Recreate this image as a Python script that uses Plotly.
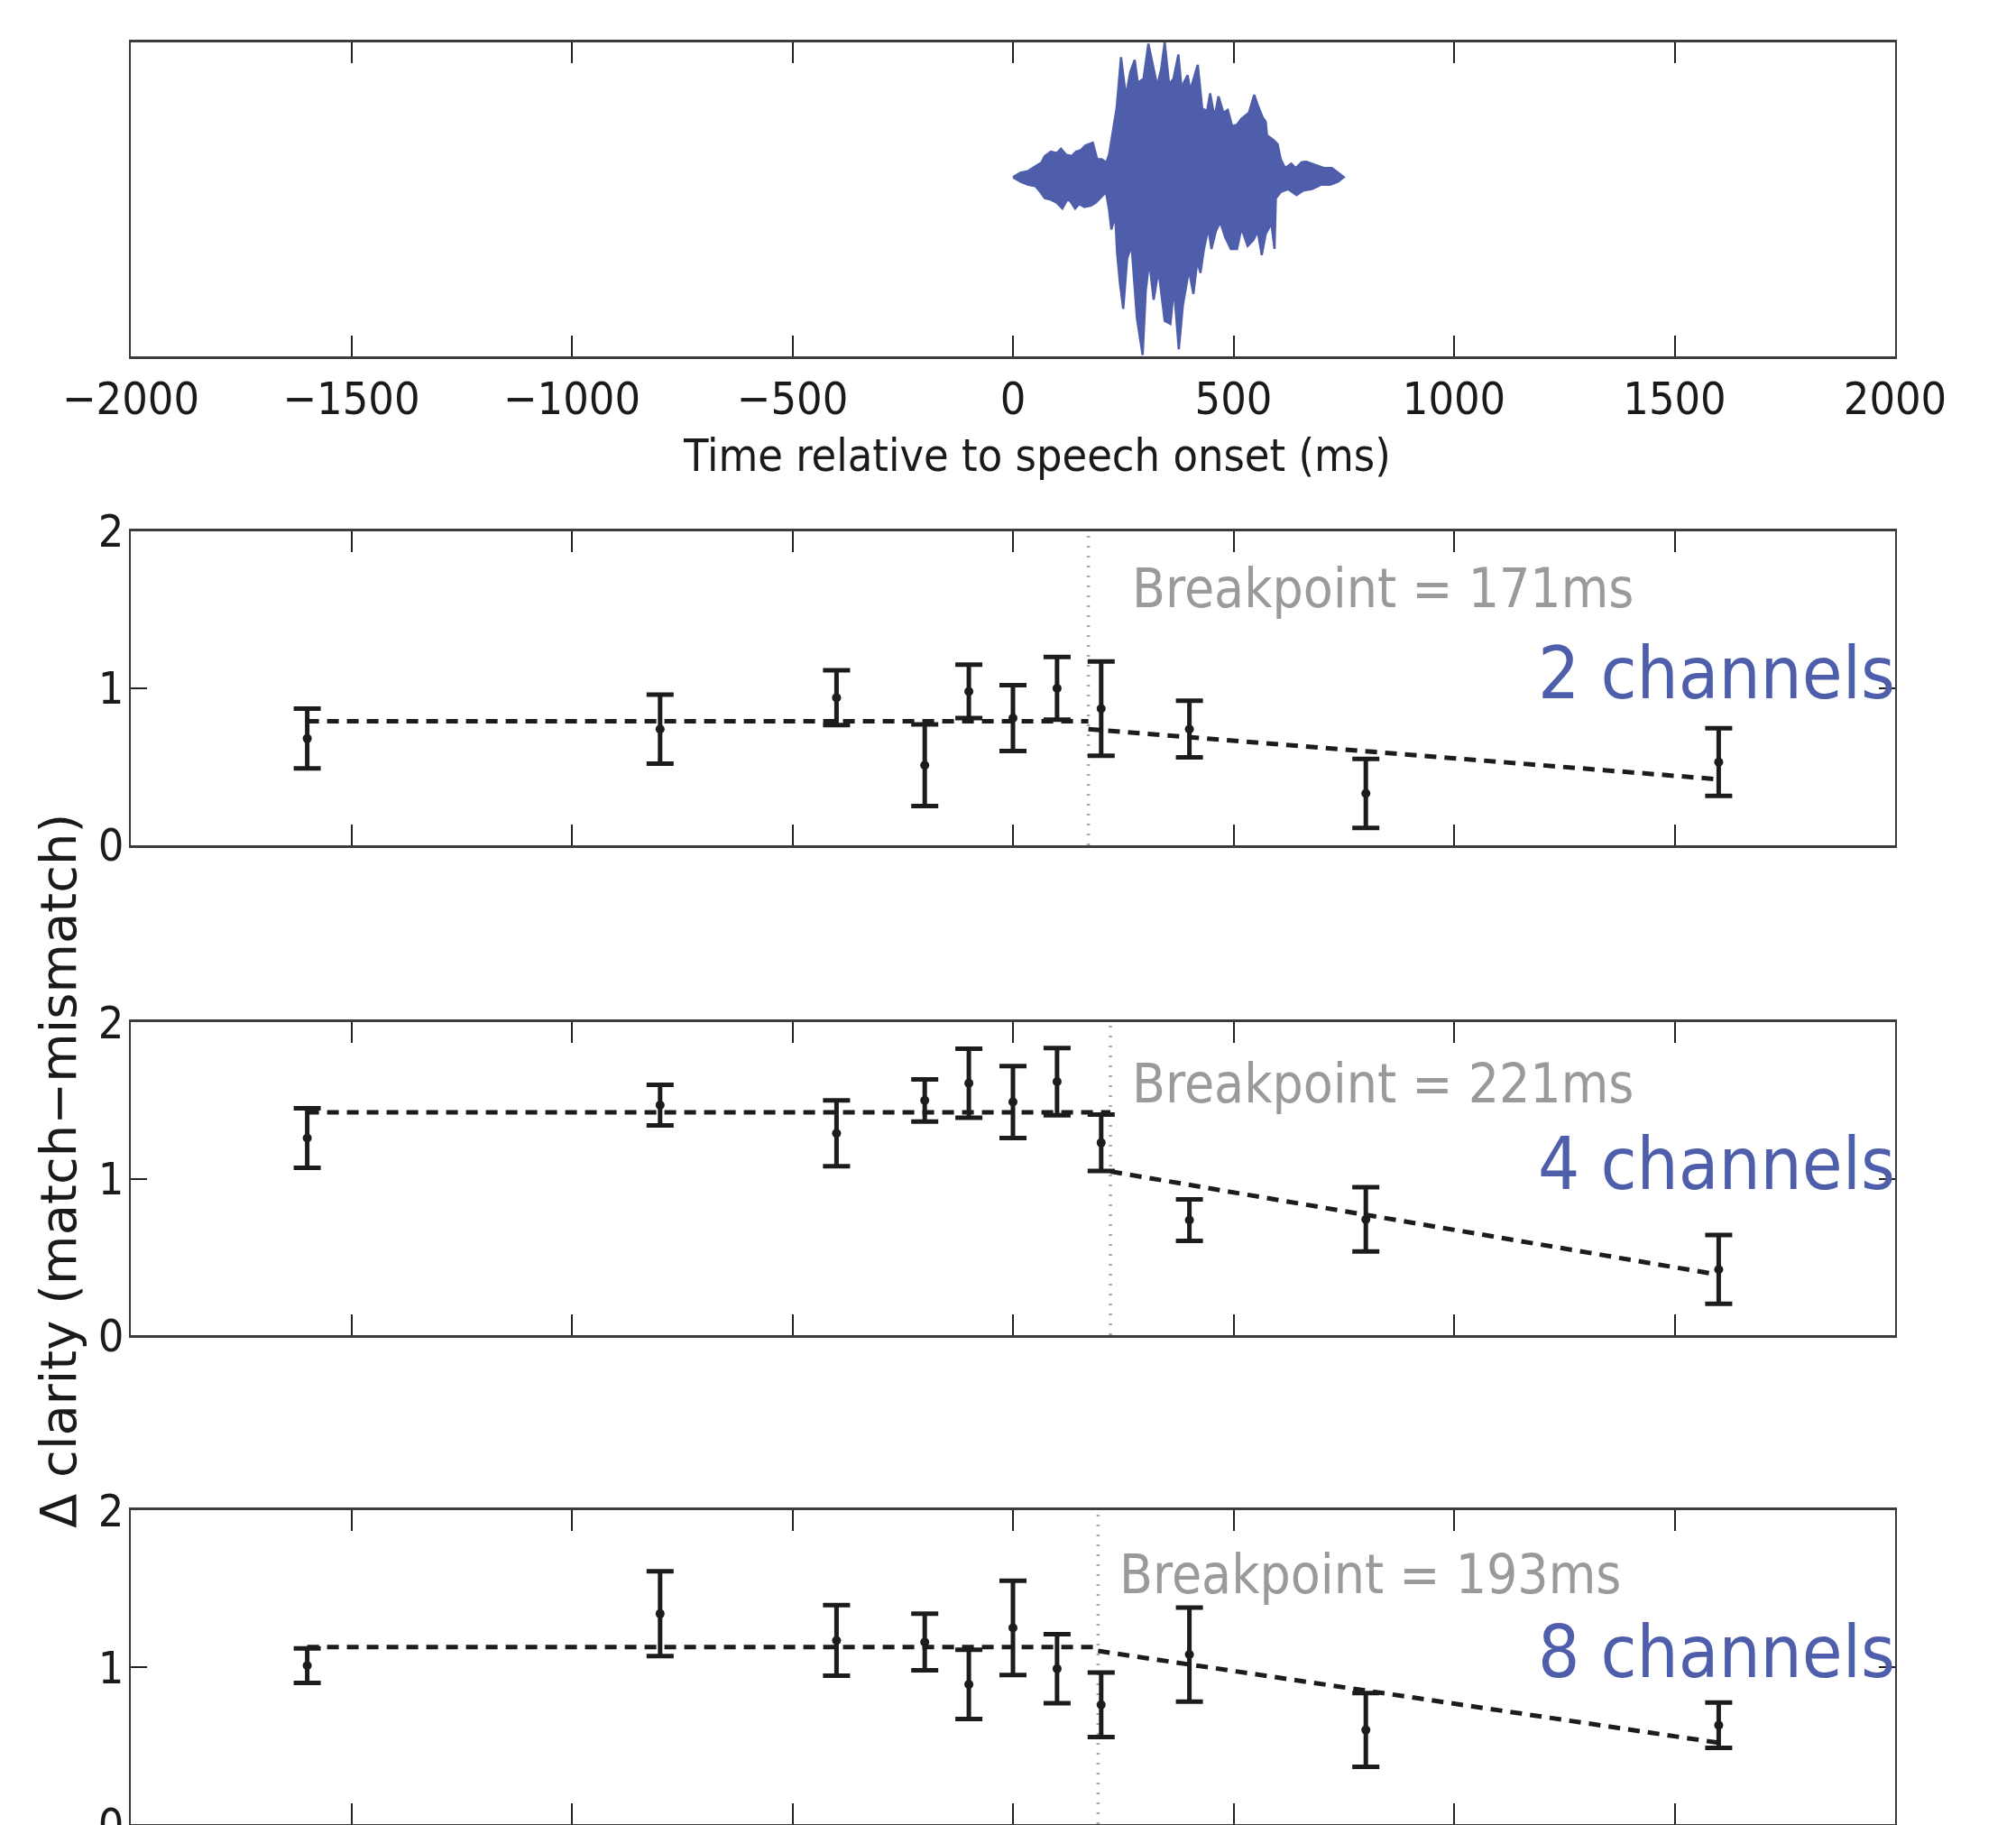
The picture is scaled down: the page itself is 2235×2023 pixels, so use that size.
import plotly.graph_objects as go

# ---------------- data ----------------
# speech waveform envelope (ms, relative amplitude)
wave_upper_t = [0, 17, 34, 51, 65, 72, 86, 99, 109, 120, 133, 143, 154, 164, 181, 191, 201, 212, 218, 225,
                235, 245, 256, 266, 276, 283, 296, 307, 317, 327, 336, 344, 354, 364, 375, 382, 396, 402, 419, 429,
                440, 447, 457, 466, 477, 487, 497, 508, 518, 535, 547, 555, 566, 573, 576, 590, 600, 607, 617, 631,
                641, 655, 665, 685, 706, 723, 737, 750]
wave_upper = [0, 0.033, 0.045, 0.078, 0.11, 0.156, 0.189, 0.178, 0.211, 0.167, 0.156, 0.189, 0.2, 0.234, 0.256, 0.133, 0.133, 0.11, 0.167, 0.311,
              0.511, 0.89, 0.6, 0.78, 0.87, 0.70, 0.73, 0.99, 0.845, 0.678, 0.80, 1.0, 0.69, 0.73, 0.91, 0.667, 0.756, 0.644, 0.833, 0.511,
              0.489, 0.622, 0.444, 0.6, 0.478, 0.5, 0.378, 0.389, 0.433, 0.478, 0.611, 0.533, 0.444, 0.411, 0.311, 0.278, 0.244, 0.133, 0.067, 0.1,
              0.067, 0.111, 0.115, 0.089, 0.067, 0.067, 0.033, 0]
wave_lower_t = [0, 17, 34, 51, 62, 72, 86, 99, 112, 123, 130, 141, 150, 162, 177, 188, 198, 211, 218, 223,
                232, 236, 243, 250, 259, 269, 281, 294, 301, 309, 319, 330, 344, 357, 365, 376, 385, 399, 409, 418,
                425, 433, 443, 450, 460, 470, 481, 494, 508, 518, 532, 545, 555, 564, 573, 586, 593, 596, 607, 624,
                643, 658, 678, 699, 719, 737, 750]
wave_lower = [0, -0.033, -0.056, -0.067, -0.11, -0.156, -0.167, -0.189, -0.233, -0.167, -0.178, -0.233, -0.2, -0.222, -0.211, -0.189, -0.156, -0.111, -0.244, -0.389,
              -0.289, -0.556, -0.8, -0.978, -0.6, -0.511, -1.044, -1.32, -0.844, -0.622, -0.911, -0.689, -1.067, -1.089, -0.822, -1.278, -0.956, -0.689, -0.867, -0.622,
              -0.711, -0.533, -0.378, -0.533, -0.4, -0.333, -0.444, -0.533, -0.533, -0.378, -0.511, -0.467, -0.4, -0.578, -0.422, -0.344, -0.533, -0.156, -0.111, -0.089,
              -0.133, -0.1, -0.089, -0.056, -0.056, -0.033, 0]

# time points (ms)
times = [-1600, -800, -400, -200, -100, 0, 100, 200, 400, 800, 1600]

channels = ["2 channels", "4 channels", "8 channels"]
means = [
    [0.68, 0.74, 0.94, 0.51, 0.98, 0.81, 1.00, 0.87, 0.74, 0.33, 0.53],
    [1.26, 1.47, 1.29, 1.50, 1.61, 1.49, 1.62, 1.23, 0.735, 0.74, 0.42],
    [1.01, 1.34, 1.17, 1.16, 0.89, 1.25, 0.99, 0.76, 1.08, 0.60, 0.63],
]
errors = [
    [0.19, 0.22, 0.175, 0.26, 0.17, 0.21, 0.20, 0.30, 0.18, 0.22, 0.215],
    [0.19, 0.13, 0.21, 0.135, 0.22, 0.23, 0.215, 0.18, 0.133, 0.205, 0.22],
    [0.11, 0.27, 0.225, 0.18, 0.22, 0.30, 0.22, 0.205, 0.30, 0.235, 0.145],
]
breakpoints = [171, 221, 193]
fit_flat = [0.79, 1.424, 1.128]
fit_post_start = [0.74, 1.046, 1.103]
fit_post_end = [0.42, 0.386, 0.518]
fit_end_x = 1600
label_x = [265, 265, 238]
label_y = [1.64, 1.61, 1.59]

xtick_vals = [-2000, -1500, -1000, -500, 0, 500, 1000, 1500, 2000]
xtick_text = ["\u22122000", "\u22121500", "\u22121000", "\u2212500", "0", "500", "1000", "1500", "2000"]
ytick_vals = [0, 1, 2]
ytick_text = ["0", "1", "2"]

# ---------------- style ----------------
BLUE = "#4f5eaa"
GRAY_TXT = "#9a9a9a"
BLACK = "#1c1c1c"
AXC = "#3c3c3c"
FONT = "DejaVu Sans Condensed, DejaVu Sans, sans-serif"

W, H = 2235, 2023
# the page body adds an 8px offset; margins compensate for it
ML, MR, MT, MB = 137, 142, 39, 9
PW = W - ML - MR
PH = H - MT - MB
domains = [(0.8238, 1.0), (0.5494, 0.7256), (0.2744, 0.4501), (0.0, 0.1762)]

fig = go.Figure()

# waveform
fig.add_trace(go.Scatter(
    x=wave_upper_t + wave_lower_t[::-1],
    y=wave_upper + wave_lower[::-1],
    mode="lines", fill="toself", fillcolor=BLUE,
    line=dict(color=BLUE, width=2.5),
    xaxis="x", yaxis="y", showlegend=False, hoverinfo="skip"))

for i in range(3):
    ax = str(i + 2)
    bp = breakpoints[i]
    # breakpoint line
    fig.add_trace(go.Scatter(
        x=[bp, bp], y=[0, 2], mode="lines",
        line=dict(color="#a6a6a6", width=3.5, dash="2px,9px"),
        xaxis="x" + ax, yaxis="y" + ax, showlegend=False))
    # piecewise fit
    fig.add_trace(go.Scatter(
        x=[times[0], bp, None, bp, fit_end_x],
        y=[fit_flat[i], fit_flat[i], None, fit_post_start[i], fit_post_end[i]],
        mode="lines", line=dict(color=BLACK, width=5, dash="13px,9px"),
        xaxis="x" + ax, yaxis="y" + ax, showlegend=False, connectgaps=False))
    # data with error bars
    fig.add_trace(go.Scatter(
        x=times, y=means[i], mode="markers",
        marker=dict(color=BLACK, size=10),
        error_y=dict(type="data", array=errors[i], visible=True,
                     color=BLACK, thickness=5, width=15),
        xaxis="x" + ax, yaxis="y" + ax, showlegend=False))

layout = dict(
    width=W, height=H,
    margin=dict(l=ML, r=MR, t=MT, b=MB, pad=0, autoexpand=False),
    paper_bgcolor="white", plot_bgcolor="white",
    font=dict(family=FONT, size=50, color="#1a1a1a"),
    showlegend=False,
)

for k in range(4):
    sx = "" if k == 0 else str(k + 1)
    xa = dict(
        domain=[0, 1], anchor="y" + sx, range=[-2000, 2000], automargin=False,
        tickmode="array", tickvals=xtick_vals, ticktext=xtick_text,
        ticks="inside", ticklen=23, tickwidth=1.5, tickcolor="#222222",
        showline=True, linecolor=AXC, linewidth=2.5, mirror="ticks",
        showgrid=False, zeroline=False,
        showticklabels=(k == 0),
        tickfont=dict(family=FONT, size=50, color="#1a1a1a"),
    )
    if k == 0:
        xa["ticklabelstandoff"] = 1
    layout["xaxis" + sx] = xa
    if k == 0:
        ya = dict(domain=list(domains[k]), anchor="x", range=[-1.33, 1.0], automargin=False,
                  showticklabels=False, ticks="", showline=True, linecolor=AXC,
                  linewidth=1.5, mirror=True, showgrid=False, zeroline=False)
    else:
        ya = dict(domain=list(domains[k]), anchor="x" + sx, range=[0, 2], automargin=False,
                  tickmode="array", tickvals=ytick_vals, ticktext=ytick_text,
                  ticks="inside", ticklen=18, tickwidth=1.5, tickcolor="#222222",
                  showline=True, linecolor=AXC, linewidth=1.5, mirror="ticks",
                  showgrid=False, zeroline=False, ticklabelstandoff=-4,
                  ticklabeloverflow="allow",
                  tickfont=dict(family=FONT, size=50, color="#1a1a1a"))
    layout["yaxis" + sx] = ya

annotations = []
for i in range(3):
    ax = str(i + 2)
    annotations.append(dict(
        x=label_x[i], y=label_y[i], xref="x" + ax, yref="y" + ax,
        text="Breakpoint = %dms" % breakpoints[i], showarrow=False,
        xanchor="left", yanchor="middle",
        font=dict(family=FONT, size=60, color=GRAY_TXT)))
    annotations.append(dict(
        x=2000, y=1.095, xref="x" + ax, yref="y" + ax,
        text=channels[i], showarrow=False,
        xanchor="right", yanchor="middle", xshift=2,
        font=dict(family=FONT, size=81, color=BLUE)))

# x-axis title of the waveform panel (slightly right of centre, as in the original)
annotations.append(dict(
    x=(1149 - 145) / PW, y=(2022 - 505) / PH, xref="paper", yref="paper",
    text="Time relative to speech onset (ms)", showarrow=False,
    xanchor="center", yanchor="middle",
    font=dict(family=FONT, size=50, color="#1a1a1a")))

# shared y-axis title
annotations.append(dict(
    x=-81 / PW, y=(2022 - 1298) / PH,
    xref="paper", yref="paper", text="\u0394 clarity (match\u2212mismatch)",
    showarrow=False, textangle=-90, xanchor="center", yanchor="middle",
    font=dict(family="DejaVu Sans, sans-serif", size=56, color="#1a1a1a")))

layout["annotations"] = annotations
fig.update_layout(**layout)

fig.write_html("out.html")
